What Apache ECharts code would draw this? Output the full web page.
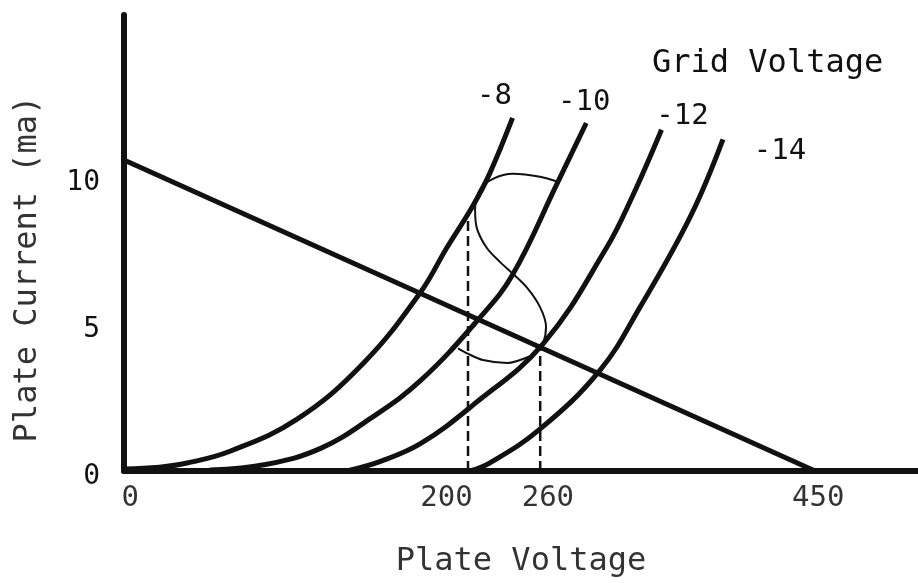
<!doctype html>
<html lang="en">
  <head>
    <meta charset="UTF-8" />
    <title>Plate characteristics</title>
    <script src="https://cdn.jsdelivr.net/npm/echarts@6/dist/echarts.min.js"></script>
    <style type="text/css">
      * {
        margin: 0;
        padding: 0;
      }
      html,
      body,
      #chart {
        width: 100%;
        height: 100%;
        overflow: hidden;
        background: #fff;
      }
    </style>
  </head>
  <body>
    <div id="chart"></div>
  </body>
  <script>
    // plate characteristic curves, [plate voltage, plate current (ma)] as sketched
    const curveNames = ['-8', '-10', '-12', '-14'];
    const curve8 = [[0, 0.07], [23, 0.13], [41, 0.27], [69, 0.67], [113, 1.77], [156, 3.67], [193, 6.07], [210, 7.57], [227, 9.0], [238, 10.1], [253, 12.0]];
    const curve10 = [[56, 0.03], [93, 0.23], [128, 0.77], [160, 1.77], [193, 3.07], [232, 5.23], [253, 6.67], [282, 9.77], [301, 11.83]];
    const curve12 = [[147, 0.03], [167, 0.33], [193, 0.93], [227, 2.23], [273, 4.33], [314, 7.57], [331, 9.33], [350, 11.6]];
    const curve14 = [[225, 0], [238, 0.27], [271, 1.43], [310, 3.43], [336, 5.57], [369, 8.67], [390, 11.27]];

    // load line
    const loadLine = [[0, 10.57], [450, 0]];

    // swing path drawn over the curves
    const swingPath = [
      [282.6, 9.83], [270.9, 10.0], [253.3, 10.1], [240.3, 9.93], [231.8, 9.57], [228.6, 8.9],
      [229.9, 8.23], [236.4, 7.57], [244.9, 7.1], [252.7, 6.73], [262.4, 6.23], [270.9, 5.57],
      [274.8, 4.9], [272.9, 4.33], [268.9, 4.1], [264.4, 3.9], [249.4, 3.67], [233.8, 3.77],
      [223.4, 4.0], [217.5, 4.17]
    ];

    // dashed drop lines
    const drop200 = [[224, 0], [224, 8.77]];
    const drop260 = [[271, 0], [271, 4.27]];

    // axis tick labels
    const xTickAt = [4, 210, 276, 452];
    const xTickText = ['0', '200', '260', '450'];
    const yTicks = [0, 5, 10];

    // where each curve's label sits relative to its top end
    const labelOffsets = [[-18, -21], [-2, -21], [21, -13], [57, 12]];

    const font = '"DejaVu Sans Mono", "Liberation Mono", monospace';
    const ink = '#111';

    const curves = [curve8, curve10, curve12, curve14];

    const series = curves.map(function (pts, k) {
      return {
        name: curveNames[k],
        type: 'line',
        smooth: 0.4,
        showSymbol: false,
        data: pts,
        lineStyle: { color: ink, width: 5 },
        markPoint: {
          symbolSize: 0,
          data: [{ type: 'max' }],
          label: {
            show: true,
            position: 'inside',
            formatter: curveNames[k],
            offset: labelOffsets[k],
            color: ink,
            fontFamily: font,
            fontSize: 29
          }
        }
      };
    });

    series.push({
      type: 'line',
      showSymbol: false,
      data: loadLine,
      lineStyle: { color: ink, width: 5 }
    });
    series.push({
      type: 'line',
      smooth: 0.3,
      showSymbol: false,
      data: swingPath,
      lineStyle: { color: ink, width: 2 }
    });
    [drop200, drop260].forEach(function (d) {
      series.push({
        type: 'line',
        showSymbol: false,
        data: d,
        lineStyle: { color: ink, width: 2.5, type: [10, 5] }
      });
    });

    const chart = echarts.init(document.getElementById('chart'));
    chart.setOption({
      animation: false,
      backgroundColor: '#fff',
      title: {
        text: 'Grid Voltage',
        left: 652,
        top: 48,
        padding: 0,
        textStyle: { fontFamily: font, fontSize: 32, fontWeight: 'normal', color: ink }
      },
      grid: { left: 124, right: 0, top: 15, bottom: 103 },
      xAxis: {
        type: 'value',
        min: 0,
        max: 517,
        name: 'Plate Voltage',
        nameLocation: 'middle',
        nameGap: 75,
        nameTextStyle: { fontFamily: font, fontSize: 32, color: '#333' },
        axisLine: { lineStyle: { color: ink, width: 6 } },
        axisTick: { show: false },
        splitLine: { show: false },
        axisLabel: {
          customValues: xTickAt,
          formatter: function (v) {
            return xTickText[xTickAt.indexOf(v)];
          },
          margin: 13,
          fontFamily: font,
          fontSize: 29,
          color: '#333'
        }
      },
      yAxis: {
        type: 'value',
        min: 0,
        max: 15.5,
        name: 'Plate Current (ma)',
        nameLocation: 'middle',
        nameGap: 80,
        nameTextStyle: { fontFamily: font, fontSize: 32, color: '#333', padding: [0, 52, 0, 0] },
        axisLine: { lineStyle: { color: ink, width: 6 } },
        axisTick: { show: false },
        splitLine: { show: false },
        axisLabel: {
          customValues: yTicks,
          margin: 24,
          verticalAlign: 'top',
          lineHeight: 12,
          fontFamily: font,
          fontSize: 28,
          color: ink
        }
      },
      series: series
    });
  </script>
</html>
